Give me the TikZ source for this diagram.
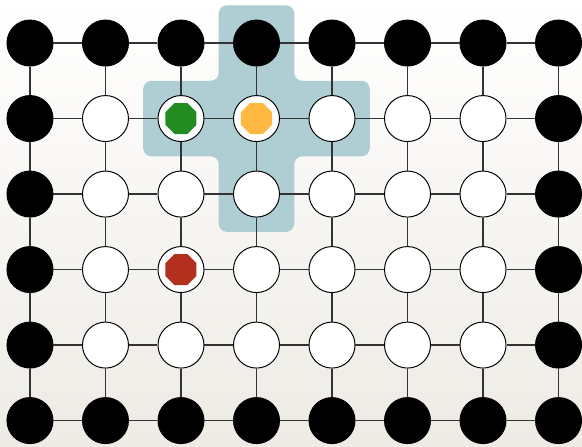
\documentclass[tikz,border=0pt]{standalone}
\usepackage{tikz}
\usetikzlibrary{shapes.geometric, backgrounds}
\definecolor{HiliteTeal}{RGB}{175,206,211}
\definecolor{TokGreen}{RGB}{34,139,34}
\definecolor{TokOrange}{RGB}{255,185,67}
\definecolor{TokRed}{RGB}{179,48,30}
\definecolor{EdgeGray}{RGB}{51,51,51}
\definecolor{PaperTint}{RGB}{238,235,229}

\begin{document}
\begin{tikzpicture}[x=1.5cm, y=1.5cm,
	site/.style={circle, draw=black, line width=0.55pt, minimum size=0.914cm,
		inner sep=0pt, fill=white},
	wall/.style={site, fill=black},
	token/.style={regular polygon, regular polygon sides=8, minimum size=0.667cm,
		inner sep=0pt},
	link/.style={draw=EdgeGray, line width=0.8pt}]
	\shade[top color=white, bottom color=PaperTint]
		(-0.397,0.570) rectangle (7.311,-5.338);
	\useasboundingbox (-0.397,0.570) rectangle (7.311,-5.338);
	% highlighted neighbourhood
	\fill[HiliteTeal, rounded corners=0.16cm] (2.5,0.5) -- (3.5,0.5) -- (3.5,-0.5)
		-- (4.5,-0.5) -- (4.5,-1.5) -- (3.5,-1.5) -- (3.5,-2.5) -- (2.5,-2.5)
		-- (2.5,-1.5) -- (1.5,-1.5) -- (1.5,-0.5) -- (2.5,-0.5) -- cycle;
	% lattice sites
	\foreach \c in {0,...,7}
		\foreach \r in {0,...,5}{
			\pgfmathtruncatemacro\isw{(\c==0)||(\c==7)||(\r==0)||(\r==5)}
			\ifnum\isw=1
				\node[wall] (n-\c-\r) at (\c,-\r) {};
			\else
				\node[site] (n-\c-\r) at (\c,-\r) {};
			\fi
		}
	% bonds
	\foreach \c in {0,...,6}
		\foreach \r in {0,...,5}{
			\pgfmathtruncatemacro\cn{\c+1}
			\draw[link] (n-\c-\r) -- (n-\cn-\r);
		}
	\foreach \c in {0,...,7}
		\foreach \r in {0,...,4}{
			\pgfmathtruncatemacro\rn{\r+1}
			\draw[link] (n-\c-\r) -- (n-\c-\rn);
		}
	% tokens
	\node[token, fill=TokGreen] (green) at (n-2-1) {};
	\node[token, fill=TokOrange] (orange) at (n-3-1) {};
	\node[token, fill=TokRed] (red) at (n-2-3) {};
\end{tikzpicture}
\end{document}
